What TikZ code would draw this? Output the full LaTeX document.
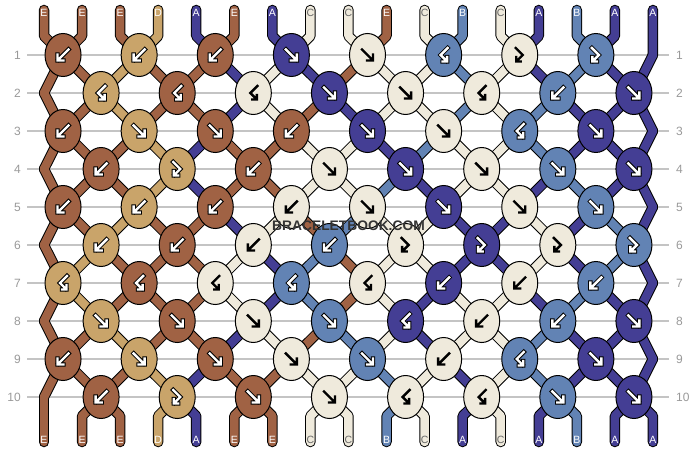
\documentclass[tikz,border=0pt]{standalone}
\usepackage{fontspec}
\setmainfont{Liberation Sans}
\usetikzlibrary{shapes.geometric}

% Couleurs des fils
\definecolor{colE}{RGB}{160,98,68}
\definecolor{colD}{RGB}{201,164,106}
\definecolor{colA}{RGB}{68,62,148}
\definecolor{colB}{RGB}{98,131,180}
\definecolor{colC}{RGB}{239,234,220}
\colorlet{inkE}{white}\colorlet{inkD}{white}\colorlet{inkA}{white}\colorlet{inkB}{white}\colorlet{inkC}{black}
\colorlet{rimE}{black}\colorlet{rimD}{black}\colorlet{rimA}{black}\colorlet{rimB}{black}\colorlet{rimC}{colC}
\colorlet{tagE}{white}\colorlet{tagD}{white}\colorlet{tagA}{white}\colorlet{tagB}{white}\colorlet{tagC}{black!60}

\pgfdeclarelayer{guides}
\pgfdeclarelayer{strands}
\pgfsetlayers{guides,strands,main}

\newcommand\knotglyph[1]{\draw[glyph rim] #1; \draw[glyph ink] #1;}

% Couleurs de chaque position, avant le rang 1, puis apres chaque rang
\newcommand\strandlevels{
  {E,E,E,D,A,E,A,C,C,E,C,B,C,A,B,A,A},
  {E,E,D,E,E,A,C,A,E,C,C,B,C,A,B,A,A},
  {E,E,D,E,E,A,C,E,A,C,C,B,C,B,A,A,A},
  {E,E,E,D,A,E,E,C,C,A,B,C,C,B,A,A,A},
  {E,E,E,D,A,E,E,C,C,B,A,C,C,A,B,A,A},
  {E,E,D,E,E,A,C,E,B,C,C,A,A,C,A,B,A},
  {E,D,E,E,E,C,A,B,E,C,C,A,A,C,A,B,A},
  {E,D,E,E,E,C,A,B,E,C,A,C,C,A,B,A,A},
  {E,E,D,E,E,A,C,E,B,C,A,C,C,B,A,A,A},
  {E,E,E,D,A,E,E,C,C,B,C,A,C,B,A,A,A},
  {E,E,E,D,A,E,E,C,C,B,C,A,C,A,B,A,A}}

\tikzset{
  knot/.style={ellipse, draw=black, line width=1pt, fill=col#1,
    minimum width=36pt, minimum height=43pt, inner sep=0pt},
  glyph rim/.style={line width=4.4pt, draw=rim\kc, line cap=rect, line join=miter},
  glyph ink/.style={line width=2.4pt, draw=ink\kc, line cap=rect, line join=miter},
  rim/.style={line width=10.5pt, draw=black, line cap=round, line join=round},
  core/.style={line width=8.5pt, draw=col#1, line cap=round, line join=round},
  tag/.style={text=tag#1, font=\fontsize{10.5}{11}\selectfont, inner sep=0pt},
  rownum/.style={text=black!40, font=\fontsize{12}{12}\selectfont, inner sep=0pt},
  guide/.style={draw=black!23, line width=1.5pt},
  pics/f/.style={code={\knotglyph{(-5.5,-5.5) -- (4.8,4.8) (5.5,-0.5) -- (5.5,5.5) -- (-0.5,5.5)}}},
  pics/b/.style={code={\knotglyph{(5.5,-5.5) -- (-4.8,4.8) (-5.5,-0.5) -- (-5.5,5.5) -- (0.5,5.5)}}},
  pics/bf/.style={code={\knotglyph{(4,-7) -- (-3,0) -- (2.9,5.9) (3.5,2) -- (3.5,6.5) -- (-1,6.5)}}},
  pics/fb/.style={code={\knotglyph{(-4,-7) -- (3,0) -- (-2.9,5.9) (-3.5,2) -- (-3.5,6.5) -- (1,6.5)}}}
}

\begin{document}
\begin{tikzpicture}[x=1pt, y=-1pt]
\useasboundingbox (0,0) rectangle (696,452);

% Noeuds, rang par rang (couleur/type)
\foreach \knots [count=\ri] in {
  {E/b,D/b,E/b,A/f,C/f,B/bf,C/fb,B/fb},
  {D/bf,E/bf,C/bf,A/f,C/f,C/bf,B/b,A/f},
  {E/b,D/f,E/f,E/b,A/f,C/f,B/bf,A/f},
  {E/b,D/fb,E/b,C/f,A/f,C/f,B/f,A/f},
  {E/b,D/b,E/b,C/b,C/f,A/f,C/f,B/f},
  {D/b,E/b,C/b,B/b,C/fb,A/fb,C/fb,B/fb},
  {D/bf,E/bf,C/bf,B/bf,C/bf,A/b,C/b,B/b},
  {D/f,E/f,C/f,B/f,A/bf,C/b,B/b,A/f},
  {E/b,D/f,E/f,C/f,B/f,C/b,B/bf,A/f},
  {E/b,D/fb,E/f,C/f,C/bf,C/bf,B/f,A/f}}{
  \pgfmathsetmacro\ky{55+38*(\ri-1)}
  \pgfmathsetmacro\kofs{0.5+mod(\ri,2)}
  \ifodd\ri\relax \coordinate (k-\ri-9) at (652.96,\ky); \else \coordinate (k-\ri-0) at (44,\ky); \fi
  \foreach \kc/\kt [count=\j] in \knots {
    \node[knot=\kc] (k-\ri-\j) at ({44+38.06*(2*\j-\kofs)},\ky) {};
    \pic at (k-\ri-\j) {\kt};
  }
  \node[rownum, anchor=east] (nl-\ri) at (21,\ky) {\ri};
  \node[rownum, anchor=west] (nr-\ri) at (676,\ky) {\ri};
  \begin{pgfonlayer}{guides}
    \draw[guide] ([xshift=6pt]nl-\ri.east) -- ([xshift=-7pt]nr-\ri.west);
  \end{pgfonlayer}
}

% Bouts des fils, en haut et en bas
\foreach \sc [count=\pj] in {E,E,E,D,A,E,A,C,C,E,C,B,C,A,B,A,A}{
  \pgfmathsetmacro\sx{44+38.06*(\pj-1)}
  \coordinate (t-\pj) at (\sx,10);
  \coordinate (s-\pj) at (\sx,36);
  \node[tag=\sc] (lt-\pj) at (\sx,13) {\sc};
}
\foreach \sc [count=\pj] in {E,E,E,D,A,E,E,C,C,B,C,A,C,A,B,A,A}{
  \pgfmathsetmacro\sx{44+38.06*(\pj-1)}
  \coordinate (u-\pj) at (\sx,416);
  \coordinate (v-\pj) at (\sx,442);
  \node[tag=\sc] (lb-\pj) at (\sx,440) {\sc};
}

% Fils entre les noeuds
\begin{pgfonlayer}{strands}
\foreach \pass in {rim,core}{
  \foreach \lev [count=\li from 0] in \strandlevels {
    \foreach \sc [count=\pj] in \lev {
      \pgfmathtruncatemacro\nx{\li+1}
      \pgfmathtruncatemacro\ja{(\pj+mod(\li,2))/2}
      \pgfmathtruncatemacro\jb{(\pj+mod(\nx,2))/2}
      \ifnum\li=0 \def\segA{(t-\pj) -- (s-\pj)}\else\def\segA{(k-\li-\ja.center)}\fi
      \ifnum\li=10 \def\segB{(u-\pj) -- (v-\pj)}\else\def\segB{(k-\nx-\jb.center)}\fi
      \draw[\pass=\sc] \segA -- \segB;
    }
  }
}
\end{pgfonlayer}

\node[text=black!80, font=\bfseries\fontsize{13.8}{14}\selectfont] (wm) at (348.5,226) {BRACELETBOOK.COM};

\end{tikzpicture}
\end{document}
